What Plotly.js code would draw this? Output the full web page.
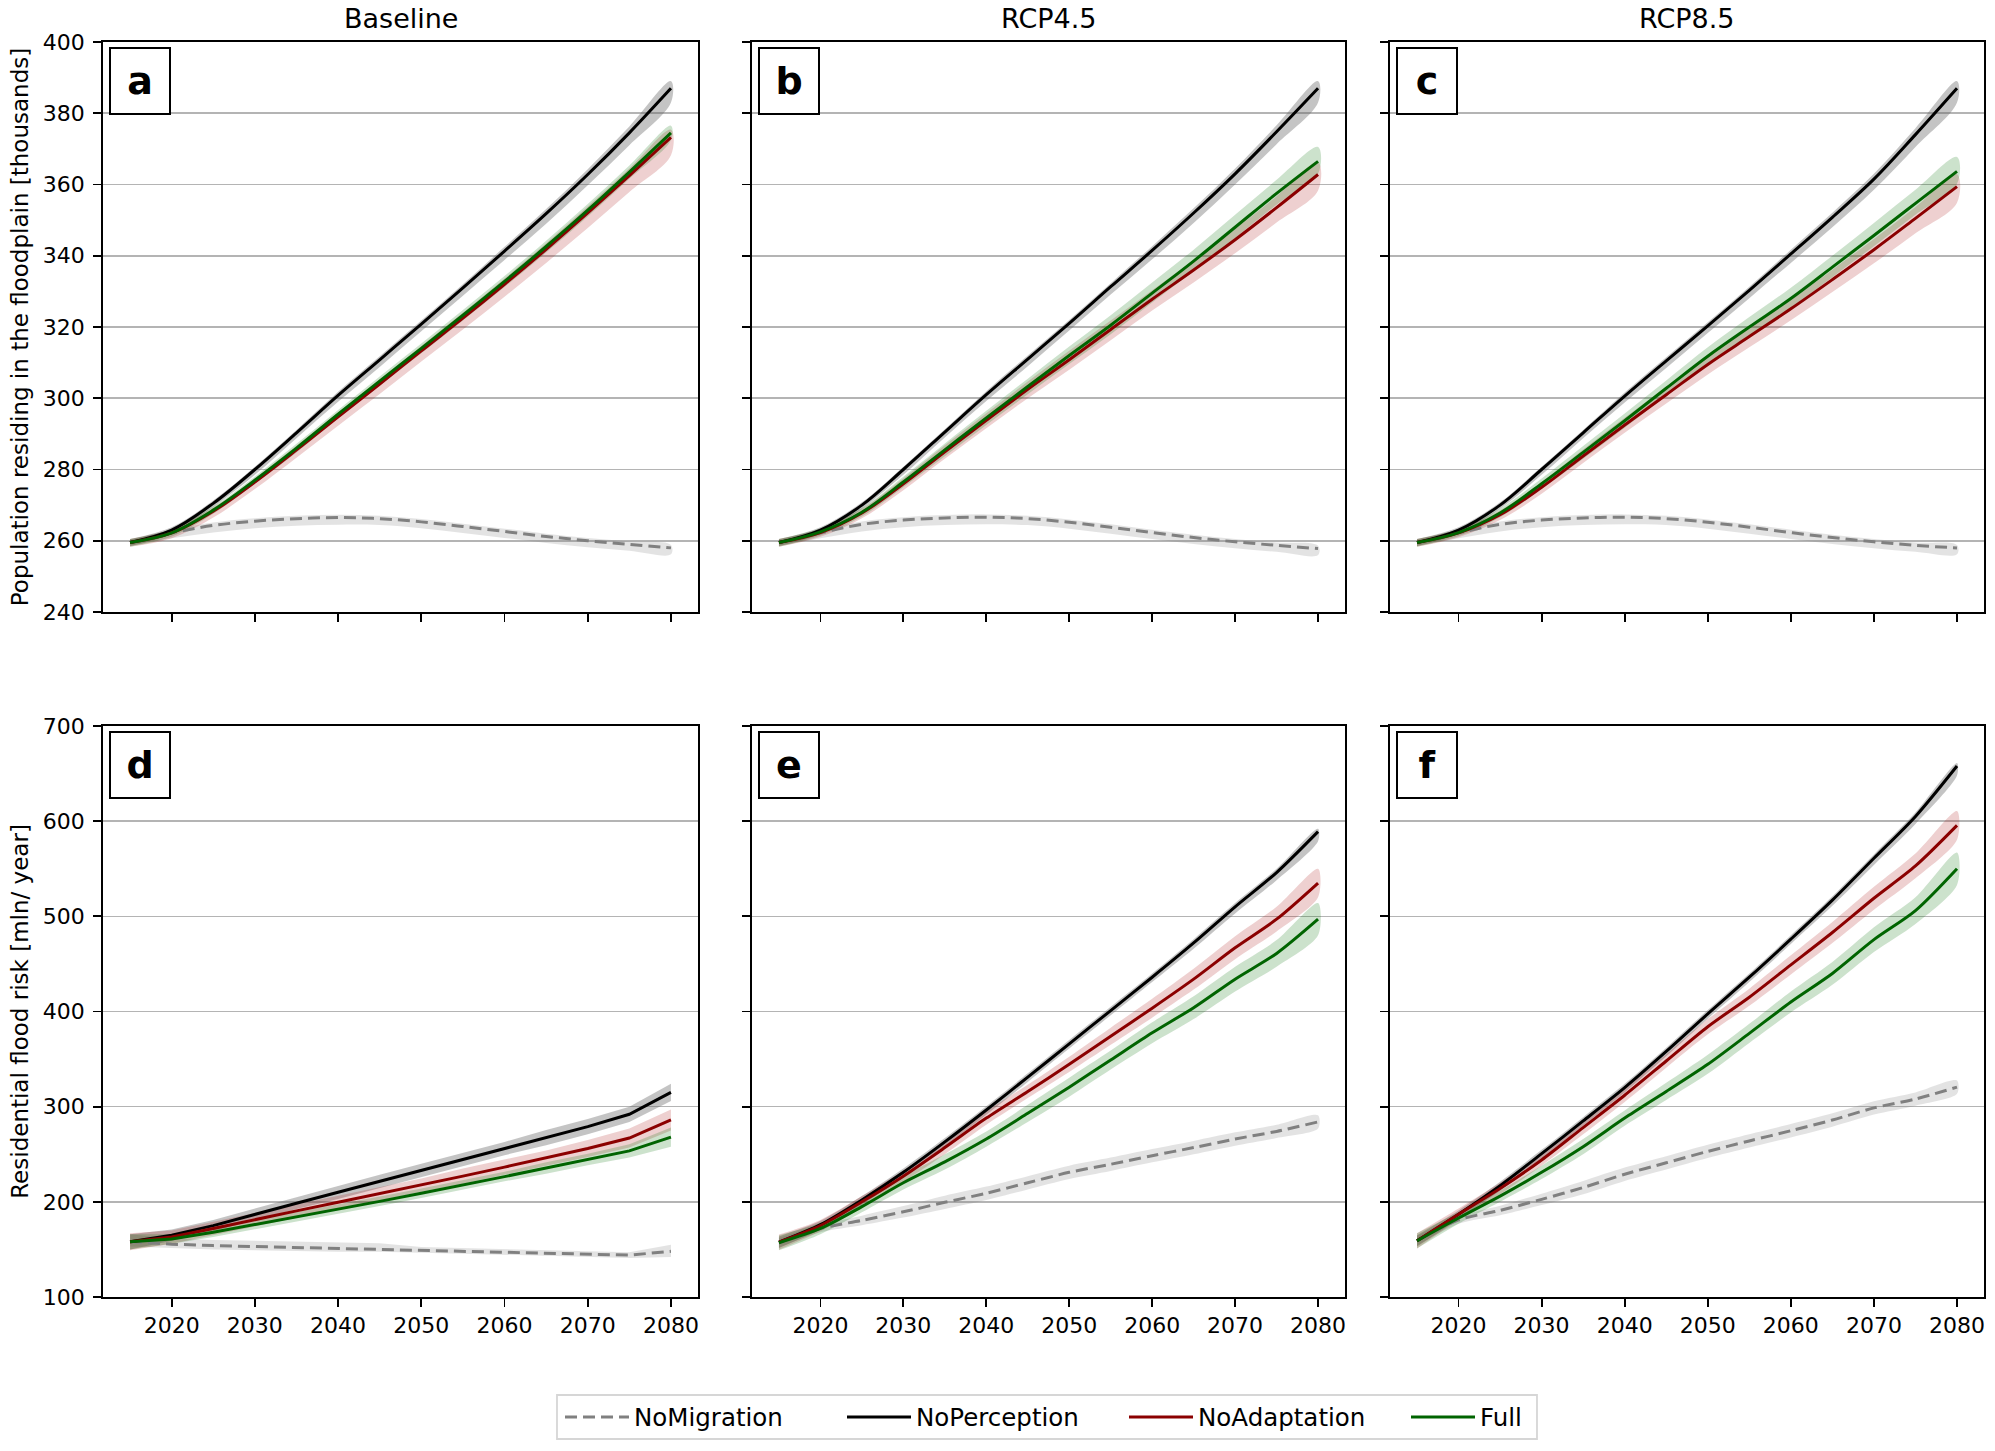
<!DOCTYPE html>
<html>
<head>
<meta charset="utf-8">
<script src="https://cdn.plot.ly/plotly-3.0.1.min.js"></script>
<style>
  html, body { margin: 0; padding: 0; background: #ffffff; }
  #chart { width: 1995px; height: 1451px; }
</style>
</head>
<body>
<div id="chart"></div>
<script>
// ---------------- DATA ----------------
const years = [2015, 2020, 2025, 2030, 2035, 2040, 2045, 2050, 2055, 2060, 2065, 2070, 2075, 2080];
const xTickVals = [2020, 2030, 2040, 2050, 2060, 2070, 2080];
const columnTitles = ["Baseline", "RCP4.5", "RCP8.5"];
const panelLetters = ["a", "b", "c", "d", "e", "f"];
const seriesNames = ["NoMigration", "NoPerception", "NoAdaptation", "Full"];
const yTitleTop = "Population residing in the floodplain [thousands]";
const yTitleBottom = "Residential flood risk [mln/ year]";

// Panel a: population, Baseline
const popBaseNoMig = [259.5, 262.2, 264.3, 265.5, 266.2, 266.5, 266.2, 265.3, 264.0, 262.6, 261.2, 260.0, 259.0, 258.0];
const popBaseNoPer = [259.5, 263.0, 270.5, 280.0, 290.3, 300.8, 310.8, 320.8, 331.0, 341.3, 351.8, 362.8, 374.5, 387.0];
const popBaseNoAd  = [259.5, 262.2, 268.3, 276.5, 285.5, 294.8, 304.0, 313.3, 322.5, 332.0, 341.8, 352.0, 362.5, 373.2];
const popBaseFull  = [259.5, 262.2, 268.6, 277.0, 286.0, 295.5, 304.8, 314.0, 323.3, 332.8, 342.6, 352.8, 363.5, 374.5];
// Panel b: population, RCP4.5
const popR45NoMig = [259.5, 262.2, 264.6, 265.8, 266.4, 266.6, 266.2, 265.2, 263.8, 262.3, 260.9, 259.7, 258.7, 257.8];
const popR45NoPer = [259.5, 263.0, 270.0, 280.0, 290.5, 301.0, 311.0, 321.0, 331.3, 341.5, 352.0, 363.0, 374.8, 387.0];
const popR45NoAd  = [259.5, 262.3, 267.8, 276.0, 285.0, 293.8, 302.5, 310.8, 319.3, 327.8, 336.0, 344.5, 353.5, 362.8];
const popR45Full  = [259.5, 262.5, 268.0, 276.5, 285.5, 294.5, 303.3, 312.0, 320.5, 329.5, 338.5, 348.0, 357.5, 366.5];
// Panel c: population, RCP8.5
const popR85NoMig = [259.5, 262.2, 264.6, 265.8, 266.4, 266.6, 266.2, 265.2, 263.8, 262.3, 260.9, 259.7, 258.7, 258.0];
const popR85NoPer = [259.5, 263.0, 270.0, 280.0, 290.3, 300.6, 310.5, 320.3, 330.3, 340.5, 350.8, 361.5, 374.0, 387.0];
const popR85NoAd  = [259.5, 262.2, 267.3, 275.0, 283.8, 292.5, 301.0, 309.5, 317.3, 325.1, 333.3, 341.7, 350.5, 359.4];
const popR85Full  = [259.5, 262.3, 267.8, 276.0, 284.8, 293.7, 302.8, 311.8, 320.0, 328.0, 336.8, 345.7, 354.7, 363.7];
// Panel d: flood risk, Baseline
const riskBaseNoMig = [158, 155.5, 154.0, 153.0, 152.0, 151.5, 150.5, 149.5, 148.5, 147.5, 146.5, 145.3, 144.0, 148.0];
const riskBaseNoPer = [158, 165.0, 175.0, 187.0, 198.5, 210.0, 221.5, 233.0, 244.5, 256.0, 267.5, 279.0, 292.0, 315.0];
const riskBaseNoAd  = [158, 163.0, 172.0, 181.5, 190.5, 199.5, 208.5, 217.5, 227.0, 236.5, 246.0, 256.0, 267.0, 286.0];
const riskBaseFull  = [158, 161.0, 168.0, 176.0, 184.5, 192.5, 200.5, 209.0, 217.5, 226.5, 235.5, 244.5, 253.5, 268.0];
// Panel e: flood risk, RCP4.5
const riskR45NoMig = [157, 172.0, 180.5, 189.5, 199.5, 209.0, 220.0, 231.0, 239.5, 248.5, 257.0, 266.0, 274.0, 284.0];
const riskR45NoPer = [157.6, 176.0, 202.0, 231.0, 263.0, 296.5, 331.0, 366.0, 401.0, 436.0, 472.0, 510.0, 546.0, 589.0];
const riskR45NoAd  = [157.6, 175.0, 200.0, 227.0, 257.0, 288.0, 316.0, 344.5, 374.0, 403.5, 434.0, 467.0, 497.0, 535.0];
const riskR45Full  = [157, 172.0, 195.0, 220.0, 242.0, 266.0, 293.0, 320.5, 349.0, 377.6, 404.0, 434.0, 461.0, 497.0];
// Panel f: flood risk, RCP8.5
const riskR85NoMig = [159, 181.0, 191.0, 202.6, 215.0, 229.0, 241.0, 253.0, 264.0, 274.7, 286.0, 298.7, 308.0, 320.5];
const riskR85NoPer = [159, 187.0, 217.0, 250.6, 285.0, 320.0, 358.0, 397.5, 436.0, 476.0, 517.0, 561.0, 605.0, 658.0];
const riskR85NoAd  = [159, 187.0, 214.0, 244.0, 278.0, 312.0, 348.0, 384.0, 415.0, 449.0, 483.0, 519.0, 553.0, 595.6];
const riskR85Full  = [159, 183.0, 206.0, 231.0, 258.0, 288.0, 316.0, 344.5, 377.0, 410.0, 440.0, 475.5, 506.0, 550.0];

// Uncertainty band extents below (Lo) and above (Hi) each line, read from the shading
const popNoMigLo = [1.0, 1.5, 2.0, 2.0, 2.0, 2.0, 1.8, 1.8, 1.8, 1.8, 1.8, 1.8, 1.8, 1.8];
const popNoMigHi = [0.8, 0.8, 0.8, 0.8, 0.8, 0.8, 0.8, 0.8, 0.8, 0.8, 0.8, 0.8, 0.8, 0.8];
const popNoPerLo = [1.0, 1.0, 1.0, 1.5, 1.5, 1.8, 2.0, 2.0, 2.2, 2.5, 2.8, 3.0, 3.5, 4.0];
const popNoPerHi = [1.0, 0.8, 0.8, 0.8, 0.8, 1.0, 1.0, 1.0, 1.0, 1.2, 1.3, 1.5, 1.8, 2.0];
const popBaseNoAdLo = [1.2, 1.5, 1.8, 2.0, 2.2, 2.5, 2.8, 3.0, 3.2, 3.5, 3.8, 4.2, 4.6, 5.0];
const popBaseNoAdHi = [1.0, 1.0, 1.0, 1.0, 1.2, 1.2, 1.3, 1.4, 1.5, 1.6, 1.7, 1.8, 2.0, 2.2];
const popBaseFullLo = [1.2, 1.0, 1.0, 1.0, 1.2, 1.2, 1.3, 1.4, 1.5, 1.6, 1.7, 1.8, 1.9, 2.0];
const popBaseFullHi = [1.0, 1.0, 1.0, 1.0, 1.2, 1.2, 1.3, 1.4, 1.5, 1.5, 1.6, 1.7, 1.8, 2.0];
const popRcpNoAdLo = [1.2, 1.2, 1.5, 1.8, 2.0, 2.2, 2.5, 2.8, 3.0, 3.2, 3.5, 3.8, 4.2, 4.5];
const popRcpNoAdHi = [1.0, 1.0, 1.2, 1.5, 1.8, 2.0, 2.2, 2.5, 2.5, 2.5, 2.8, 3.0, 3.2, 3.5];
const popRcpFullLo = [1.2, 1.0, 1.2, 1.5, 1.8, 2.0, 2.2, 2.4, 2.5, 2.6, 2.8, 3.0, 3.2, 3.5];
const popRcpFullHi = [1.0, 1.0, 1.2, 1.5, 1.8, 2.0, 2.2, 2.5, 2.8, 3.0, 3.2, 3.5, 3.8, 4.0];

const riskBaseNoMigLo = [5, 4, 4, 4, 4, 4, 3, 3, 3, 3, 3, 3, 3, 6];
const riskBaseNoMigHi = [8, 6, 6, 6, 6, 6, 6, 3, 3, 3, 3, 3, 3, 7];
const riskBaseNoPerBand = [8, 6, 6, 6, 6, 7, 7, 7, 7, 7, 8, 8, 8, 9];
const riskBaseNoAdBand = [9, 7, 7, 7, 7, 7, 7, 7, 8, 8, 8, 9, 10, 11];
const riskBaseFullBand = [8, 5, 5, 5, 5, 5, 5, 5, 5, 5, 6, 6, 7, 10];
const riskRcpNoMigBand = [5, 4, 5, 6, 7, 7, 7, 7, 7, 7, 7, 7, 7, 7];
const riskRcpNoPerLo = [6, 5, 5, 5, 5, 5, 5, 5, 5, 5, 6, 7, 8, 10];
const riskRcpNoPerHi = [6, 4, 4, 4, 4, 4, 4, 4, 4, 4, 4, 4, 4, 3];
const riskRcpNoAdBand = [8, 6, 6, 6, 7, 7, 7, 8, 9, 10, 11, 12, 13, 15];
const riskRcpFullBand = [8, 6, 6, 7, 8, 8, 9, 10, 10, 11, 12, 13, 14, 17];

// ---------------- STYLE ----------------
const FONT = "DejaVu Sans, Liberation Sans, sans-serif";
const lineColors = ["#808080", "#000000", "#8b0000", "#006400"];
const bandColors = ["rgba(128,128,128,0.22)", "rgba(100,100,100,0.38)", "rgba(170,20,20,0.20)", "rgba(0,110,0,0.20)"];
const lineDash = ["12px,6px", "solid", "solid", "solid"];

const panels = [
  {means: [popBaseNoMig, popBaseNoPer, popBaseNoAd, popBaseFull],
   lo: [popNoMigLo, popNoPerLo, popBaseNoAdLo, popBaseFullLo],
   hi: [popNoMigHi, popNoPerHi, popBaseNoAdHi, popBaseFullHi], shape: "spline", smooth: 1.0},
  {means: [popR45NoMig, popR45NoPer, popR45NoAd, popR45Full],
   lo: [popNoMigLo, popNoPerLo, popRcpNoAdLo, popRcpFullLo],
   hi: [popNoMigHi, popNoPerHi, popRcpNoAdHi, popRcpFullHi], shape: "spline", smooth: 1.0},
  {means: [popR85NoMig, popR85NoPer, popR85NoAd, popR85Full],
   lo: [popNoMigLo, popNoPerLo, popRcpNoAdLo, popRcpFullLo],
   hi: [popNoMigHi, popNoPerHi, popRcpNoAdHi, popRcpFullHi], shape: "spline", smooth: 1.0},
  {means: [riskBaseNoMig, riskBaseNoPer, riskBaseNoAd, riskBaseFull],
   lo: [riskBaseNoMigLo, riskBaseNoPerBand, riskBaseNoAdBand, riskBaseFullBand],
   hi: [riskBaseNoMigHi, riskBaseNoPerBand, riskBaseNoAdBand, riskBaseFullBand], shape: "linear", smooth: 0},
  {means: [riskR45NoMig, riskR45NoPer, riskR45NoAd, riskR45Full],
   lo: [riskRcpNoMigBand, riskRcpNoPerLo, riskRcpNoAdBand, riskRcpFullBand],
   hi: [riskRcpNoMigBand, riskRcpNoPerHi, riskRcpNoAdBand, riskRcpFullBand], shape: "spline", smooth: 0.8},
  {means: [riskR85NoMig, riskR85NoPer, riskR85NoAd, riskR85Full],
   lo: [riskRcpNoMigBand, riskRcpNoPerLo, riskRcpNoAdBand, riskRcpFullBand],
   hi: [riskRcpNoMigBand, riskRcpNoPerHi, riskRcpNoAdBand, riskRcpFullBand], shape: "spline", smooth: 0.8}
];

// ---------------- TRACES ----------------
const traces = [];
const revYears = years.slice().reverse();
panels.forEach((p, pi) => {
  const xa = "x" + (pi === 0 ? "" : pi + 1);
  const ya = "y" + (pi === 0 ? "" : pi + 1);
  const lineShape = p.shape === "spline" ? {shape: "spline", smoothing: p.smooth} : {shape: "linear"};
  // bands
  p.means.forEach((m, si) => {
    const upper = m.map((v, i) => v + p.hi[si][i]);
    const lower = m.map((v, i) => v - p.lo[si][i]);
    traces.push({
      type: "scatter", mode: "lines", xaxis: xa, yaxis: ya,
      x: years.concat(revYears), y: upper.concat(lower.slice().reverse()),
      fill: "toself", fillcolor: bandColors[si],
      line: Object.assign({width: 0}, lineShape),
      hoverinfo: "skip", showlegend: false
    });
  });
  // lines
  p.means.forEach((m, si) => {
    traces.push({
      type: "scatter", mode: "lines", xaxis: xa, yaxis: ya,
      x: years, y: m, name: seriesNames[si],
      line: Object.assign({color: lineColors[si], width: 3, dash: lineDash[si]}, lineShape),
      showlegend: pi === 0, legendrank: si + 1
    });
  });
});

// ---------------- LAYOUT ----------------
const W = 1995, H = 1451;
const colPx = [[103, 698], [752, 1345], [1390, 1984]];
const rowPx = [[42, 612], [726, 1297]];
const layout = {
  width: W, height: H,
  margin: {l: 0, r: 0, t: 0, b: 0},
  paper_bgcolor: "#ffffff", plot_bgcolor: "#ffffff",
  font: {family: FONT, size: 22, color: "#000000"},
  showlegend: true,
  legend: {
    orientation: "h", x: 560 / W, xanchor: "left", y: 1 - 1417 / H, yanchor: "middle",
    font: {family: FONT, size: 24.5, color: "#000000"},
    bgcolor: "rgba(0,0,0,0)", borderwidth: 0,
    entrywidth: 203, entrywidthmode: "pixels", itemwidth: 64, traceorder: "normal"
  },
  annotations: [], shapes: []
};

for (let pi = 0; pi < 6; pi++) {
  const r = pi < 3 ? 0 : 1, c = pi % 3;
  const sfx = pi === 0 ? "" : String(pi + 1);
  layout["xaxis" + sfx] = {
    domain: [colPx[c][0] / W, colPx[c][1] / W],
    anchor: "y" + sfx,
    range: [2011.75, 2083.25], tickvals: xTickVals,
    showticklabels: r === 1,
    ticks: "outside", ticklen: 8, tickwidth: 1.8, tickcolor: "#000",
    showline: true, linecolor: "#000", linewidth: 1.8, mirror: true,
    showgrid: false, zeroline: false,
    tickfont: {family: FONT, size: 22, color: "#000"}, ticklabelstandoff: 0
  };
  const yax = {
    domain: [1 - rowPx[r][1] / H, 1 - rowPx[r][0] / H],
    anchor: "x" + sfx,
    range: r === 0 ? [240, 400] : [100, 700],
    dtick: r === 0 ? 20 : 100, tick0: r === 0 ? 240 : 100,
    showticklabels: c === 0,
    ticks: "outside", ticklen: 8, tickwidth: 1.8, tickcolor: "#000",
    showline: true, linecolor: "#000", linewidth: 1.8, mirror: true,
    showgrid: true, gridcolor: "#b4b4b4", gridwidth: 1.6, zeroline: false,
    tickfont: {family: FONT, size: 22, color: "#000"}, ticklabelstandoff: 4
  };
  if (c === 0) {
    yax.title = {text: r === 0 ? yTitleTop : yTitleBottom, font: {family: FONT, size: 23, color: "#000"}, standoff: 8};
  }
  layout["yaxis" + sfx] = yax;

  // panel letter in a framed box
  layout.annotations.push({
    xref: "x" + sfx + " domain", yref: "y" + sfx + " domain",
    x: 6 / 595, y: 1 - 5 / 571, xanchor: "left", yanchor: "top",
    text: panelLetters[pi], showarrow: false,
    font: {family: FONT, size: 38, color: "#000", weight: "bold"},
    width: 58, height: 64, align: "center", valign: "middle",
    bordercolor: "#000", borderwidth: 2, borderpad: 0, bgcolor: "#ffffff"
  });
}
// column titles
columnTitles.forEach((t, c) => {
  layout.annotations.push({
    xref: "paper", yref: "paper",
    x: (colPx[c][0] + colPx[c][1]) / 2 / W, y: 1 - 19 / H,
    xanchor: "center", yanchor: "middle", showarrow: false,
    text: t, font: {family: FONT, size: 27, color: "#000"}
  });
});
// legend frame
layout.shapes.push({
  type: "rect", xref: "paper", yref: "paper",
  x0: 557 / W, x1: 1537 / W, y0: 1 - 1439 / H, y1: 1 - 1395 / H,
  line: {color: "#d6d6d6", width: 1.8}, fillcolor: "rgba(255,255,255,0)", layer: "below"
});

Plotly.newPlot("chart", traces, layout, {displayModeBar: false, staticPlot: true});
</script>
</body>
</html>
